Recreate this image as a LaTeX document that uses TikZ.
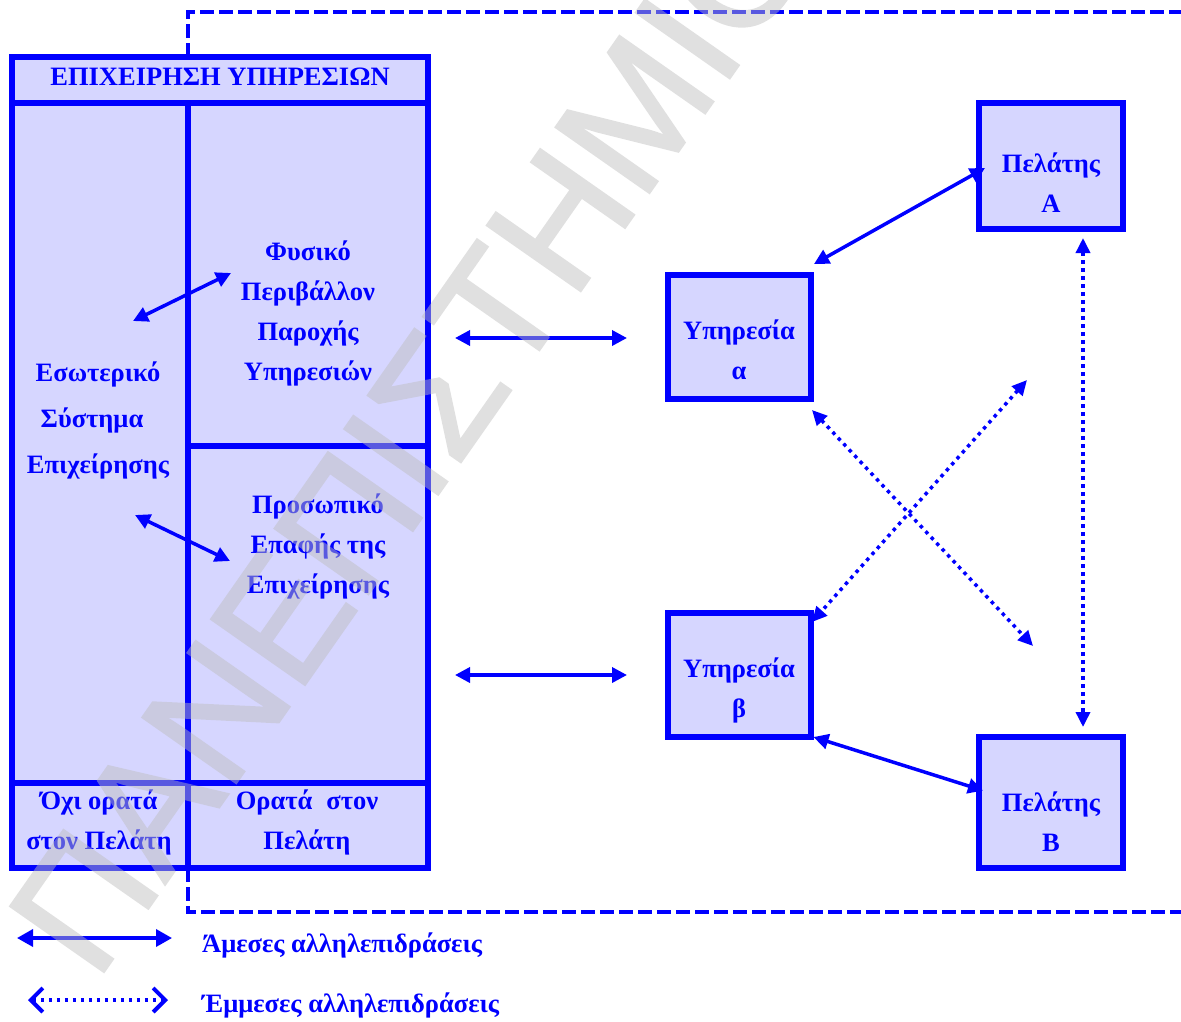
\documentclass[tikz,border=0pt]{standalone}
\usepackage{fontspec}
\setmainfont{Liberation Serif}
\newfontfamily\wmfont[FakeBold=1.5]{Liberation Sans}
\usetikzlibrary{arrows.meta}
\definecolor{bl}{RGB}{0,0,255}
\definecolor{lav}{RGB}{214,214,255}
\definecolor{wm}{RGB}{190,190,190}

\begin{document}
\begin{tikzpicture}[x=1pt,y=-1pt,
  frame/.style={draw=bl,line width=5.5pt},
  box/.style={draw=bl,fill=lav,line width=6pt,inner sep=0pt,outer sep=0pt},
  lbl/.style={text=bl,font=\fontsize{26.5}{40}\selectfont\bfseries,align=center,inner sep=0pt},
  direct/.style={draw=bl,line width=3.5pt,{Triangle[length=15pt,width=15pt]}-{Triangle[length=15pt,width=15pt]}},
  indirect/.style={draw=bl,line width=3.5pt,dash pattern=on 3.5pt off 4.5pt,{Triangle[length=15pt,width=14pt]}-{Triangle[length=15pt,width=14pt]}},
  legdirect/.style={draw=bl,line width=3.5pt,{Triangle[length=16pt,width=17pt]}-{Triangle[length=16pt,width=17pt]}},
  legindirect/.style={draw=bl,line width=3.5pt,dash pattern=on 3.5pt off 4.5pt,{Straight Barb[length=12pt,width=24pt,line width=4pt]}-{Straight Barb[length=12pt,width=24pt,line width=4pt]}},
  boundary/.style={draw=bl,line width=4.5pt,dash pattern=on 14pt off 5pt},
]
\useasboundingbox (0,0) rectangle (1181,1021);

% boundary of the service firm
\draw[boundary] (188,57) -- (188,12) -- (1195,12);
\draw[boundary] (188,868) -- (188,912) -- (1195,912);

% the firm: header, invisible part, visible part
\fill[lav] (12,57) rectangle (428,868);
\draw[frame] (12,57) rectangle (428,868);
\draw[frame] (12,103) -- (428,103);
\draw[frame] (188,103) -- (188,868);
\draw[frame] (188,446) -- (428,446);
\draw[frame] (12,783) -- (428,783);

\node[lbl] (head) at (220,77) {ΕΠΙΧΕΙΡΗΣΗ ΥΠΗΡΕΣΙΩΝ};
\node[lbl,font=\fontsize{26.5}{46}\selectfont\bfseries] (internal) at (98,420) {Εσωτερικό\\\hspace*{-12pt}Σύστημα\\Επιχείρησης};
\node[lbl] (physical) at (308,313.5) {Φυσικό\\Περιβάλλον\\Παροχής\\Υπηρεσιών};
\node[lbl] (staff) at (318,546) {Προσωπικό\\Επαφής της\\Επιχείρησης};
\node[lbl] (hidden) at (99,822) {Όχι ορατά\\στον Πελάτη};
\node[lbl] (shown) at (307,822) {Ορατά\hspace{14pt}στον\\Πελάτη};

% links inside the firm
\coordinate (in1) at (133,321);
\coordinate (ph1) at (231,273);
\coordinate (in2) at (135,515);
\coordinate (st1) at (230,561);
\draw[direct] (in1) -- (ph1);
\draw[direct] (in2) -- (st1);

% services and customers
\node[box,minimum width=143pt,minimum height=124pt] (ua) at (739,337) {};
\node[box,minimum width=143pt,minimum height=124pt] (ub) at (739,675) {};
\node[box,minimum width=144pt,minimum height=126pt] (pa) at (1051,166) {};
\node[box,minimum width=144pt,minimum height=131pt] (pb) at (1051,802.5) {};
\node[lbl] (uat) at (739,350) {Υπηρεσία\\α};
\node[lbl] (ubt) at (739,690) {Υπηρεσία\\β};
\node[lbl] (pat) at (1051,183) {Πελάτης\\Α};
\node[lbl] (pbt) at (1051,822) {Πελάτης\\Β};

% firm to services
\coordinate (fa) at (455,338);
\coordinate (sa) at (627,338);
\coordinate (fb) at (455,675);
\coordinate (sb) at (627,675);
\draw[direct] (fa) -- (sa);
\draw[direct] (fb) -- (sb);

% direct interactions
\draw[direct] ([shift={(6,2)}]pa.west) -- ([shift={(3.5,-11)}]ua.north east);
\draw[direct] ([shift={(3,0)}]ub.south east) -- ([shift={(4,-12)}]pb.west);

% indirect interactions
\coordinate (xa) at (1033,646);
\coordinate (xb) at (1027,380);
\draw[indirect] ([shift={(32,9)}]pa.south) -- ([shift={(32,-10)}]pb.north);
\draw[indirect] ([shift={(1.5,11)}]ua.south east) -- (xa);
\draw[indirect] (xb) -- ([shift={(1.5,9)}]ub.north east);

% legend
\coordinate (ld1) at (17,938);
\coordinate (ld2) at (172,938);
\coordinate (li1) at (28,1000);
\coordinate (li2) at (168,1000);
\draw[legdirect] (ld1) -- (ld2);
\draw[legindirect] (li1) -- (li2);
\node[lbl,anchor=west] (legd) at (202,945) {Άμεσες αλληλεπιδράσεις};
\node[lbl,anchor=west] (legi) at (202,1005) {Έμμεσες αλληλεπιδράσεις};

% watermark, laid over everything as one translucent layer
\begin{scope}[transparency group,opacity=0.47]
\node[rotate=55,anchor=base west,text=wm,inner sep=0pt,
      font=\wmfont\fontsize{166}{166}\selectfont] (mark) at (96,983) {ΠΑΝΕΠΙΣΤΗΜΙΟ};
\end{scope}
\end{tikzpicture}
\end{document}
